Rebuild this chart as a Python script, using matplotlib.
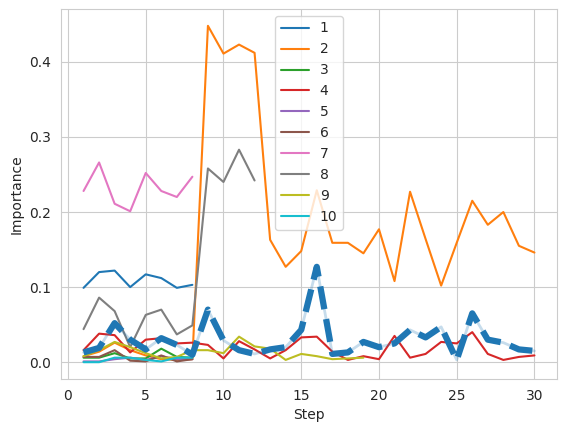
import matplotlib
matplotlib.use("Agg")
import matplotlib.pyplot as plt
import seaborn as sns

# steps for each feature (some features stop early)
steps_all = list(range(1, 31))
steps_8 = list(range(1, 9))
steps_12 = list(range(1, 13))
steps_19 = list(range(1, 20))

f1 = [0.099, 0.120, 0.122, 0.100, 0.117, 0.112, 0.099, 0.103]
f2 = [0.008, 0.014, 0.026, 0.016, 0.009, 0.004, 0.003, 0.004,
      0.448, 0.411, 0.423, 0.412, 0.163, 0.127, 0.148, 0.229, 0.159, 0.159,
      0.145, 0.177, 0.108, 0.227, 0.164, 0.102, 0.159, 0.215, 0.183, 0.200,
      0.155, 0.146]
f3 = [0.006, 0.006, 0.012, 0.005, 0.005, 0.018, 0.007, 0.006]
f4 = [0.016, 0.038, 0.036, 0.013, 0.030, 0.032, 0.025, 0.026,
      0.023, 0.005, 0.028, 0.017, 0.005, 0.016, 0.033, 0.034, 0.014, 0.003,
      0.008, 0.004, 0.035, 0.006, 0.011, 0.027, 0.025, 0.040, 0.011, 0.003,
      0.007, 0.009]
f5 = [0.001, 0.001, 0.004, 0.006, 0.003, 0.008, 0.004, 0.004]
f6 = [0.007, 0.007, 0.016, 0.002, 0.001, 0.009, 0.001, 0.004]
f7 = [0.228, 0.266, 0.211, 0.201, 0.252, 0.228, 0.220, 0.247]
f8 = [0.044, 0.086, 0.068, 0.020, 0.063, 0.070, 0.037, 0.049,
      0.258, 0.240, 0.283, 0.242]
f9 = [0.008, 0.016, 0.027, 0.020, 0.012, 0.005, 0.007, 0.016,
      0.016, 0.012, 0.034, 0.021, 0.018, 0.003, 0.011, 0.008, 0.004, 0.005,
      0.006]
f10 = [0.000, 0.000, 0.006, 0.006, 0.003, 0.001, 0.006, 0.006]

mean_imp = [0.013, 0.019, 0.052, 0.030, 0.017, 0.032, 0.023, 0.010,
            0.070, 0.029, 0.016, 0.011, 0.017, 0.020, 0.043, 0.127, 0.011,
            0.013, 0.027, 0.020, 0.025, 0.043, 0.033, 0.047, 0.003, 0.065,
            0.030, 0.026, 0.017, 0.015]

sns.set_style("whitegrid")

fig = plt.figure(figsize=(5.67, 4.32), dpi=100)
ax = fig.add_axes([61 / 567, 53 / 432, 496 / 567, 370 / 432])

series = [(steps_8, f1), (steps_all, f2), (steps_8, f3), (steps_all, f4),
          (steps_8, f5), (steps_8, f6), (steps_8, f7), (steps_12, f8),
          (steps_19, f9), (steps_8, f10)]
for i, (x, y) in enumerate(series):
    ax.plot(x, y, label=str(i + 1))

# average importance, thick dashed on a faint line
ax.plot(steps_all, mean_imp, color="C0", lw=2, alpha=0.25)
ax.plot(steps_all, mean_imp, color="C0", lw=4.5, ls="--")

ax.set_xlabel("Step")
ax.set_ylabel("Importance")
ax.legend(loc="upper center")

fig.savefig("out.png", dpi=100)
